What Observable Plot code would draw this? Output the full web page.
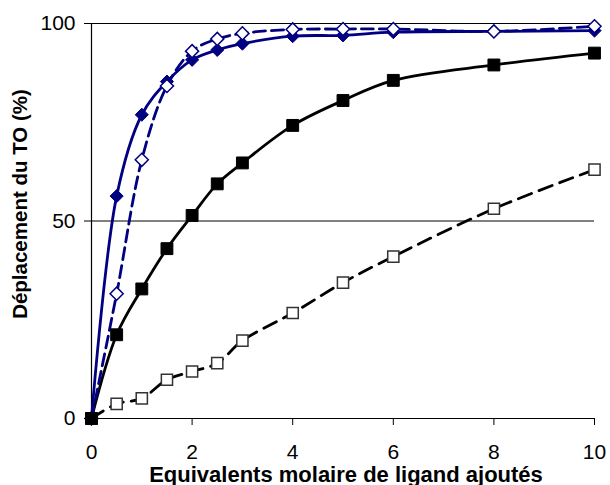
<!DOCTYPE html>
<html>
<head>
<meta charset="utf-8">
<script src="https://cdn.jsdelivr.net/npm/d3@7"></script>
<script src="https://cdn.jsdelivr.net/npm/@observablehq/plot@0.6"></script>
<style>
  html, body { margin: 0; padding: 0; background: #fff; }
  #chart { width: 610px; height: 485px; }
</style>
</head>
<body>
<div id="chart"></div>
<script>
// Equivalents of ligand added
const equivalents = [0, 0.5, 1, 1.5, 2, 2.5, 3, 4, 5, 6, 8, 10];
// Series values (% displacement of TO)
const filledDiamond = [0, 56.3, 76.9, 85.3, 90.8, 93.3, 94.9, 96.8, 97.0, 97.8, 98.0, 98.2];
const openDiamond   = [0, 31.6, 65.5, 84.2, 93.0, 96.1, 97.5, 98.5, 98.6, 98.6, 98.0, 99.3];
const filledSquare  = [0, 21.2, 32.8, 43.0, 51.4, 59.4, 64.7, 74.2, 80.5, 85.6, 89.5, 92.5];
const openSquare    = [0, 3.7, 5.1, 9.8, 11.9, 14.0, 19.7, 26.7, 34.4, 41.0, 53.1, 63.0];

const xTicks = [0, 2, 4, 6, 8, 10];
const yTicks = [0, 50, 100];
const xLabel = "Equivalents molaire de ligand ajoutés";
const yLabel = "Déplacement du TO (%)";

const toRows = (vals) => equivalents.map((x, i) => ({x, y: vals[i]}));
const A = toRows(filledDiamond);
const B = toRows(openDiamond);
const C = toRows(filledSquare);
const D = toRows(openSquare);

const navy = "#000080";

const chart = Plot.plot({
  width: 610,
  height: 485,
  marginLeft: 91,
  marginRight: 16,
  marginTop: 23,
  marginBottom: 67,
  style: {fontFamily: "'Liberation Sans', Arial, sans-serif", fontSize: "21px", color: "#000", background: "#fff"},
  x: {domain: [0, 10]},
  y: {domain: [0, 100]},
  marks: [
    Plot.ruleY([50], {stroke: "#000", strokeWidth: 1}),
    Plot.ruleY([100], {x1: 0, x2: 10.1, stroke: "#000", strokeWidth: 1.2}),
    Plot.ruleX([0], {stroke: "#000", strokeWidth: 1.2}),
    Plot.ruleY([0], {stroke: "#000", strokeWidth: 1.2}),
    Plot.axisX({ticks: xTicks, tickSize: 7, tickPadding: 19, label: null, fontSize: 21, stroke: "#000"}),
    Plot.axisY({ticks: yTicks, tickSize: 7, tickPadding: 9, label: null, fontSize: 21, stroke: "#000"}),
    Plot.line(D, {x: "x", y: "y", curve: "catmull-rom", stroke: "#000", strokeWidth: 2.8, strokeDasharray: "14,8"}),
    Plot.line(C, {x: "x", y: "y", curve: "catmull-rom", stroke: "#000", strokeWidth: 2.8}),
    Plot.line(A, {x: "x", y: "y", curve: "catmull-rom", stroke: navy, strokeWidth: 2.8}),
    Plot.line(B, {x: "x", y: "y", curve: "catmull-rom", stroke: navy, strokeWidth: 2.8, strokeDasharray: "12,6"}),
    Plot.dot(A, {x: "x", y: "y", symbol: "diamond2", r: 5.9, fill: navy, stroke: navy, strokeWidth: 1}),
    Plot.dot(B, {x: "x", y: "y", symbol: "diamond2", r: 5.9, fill: "#fff", stroke: navy, strokeWidth: 1.5}),
    Plot.dot(D, {x: "x", y: "y", symbol: "square", r: 6.3, fill: "#fff", stroke: "#333", strokeWidth: 1.5}),
    Plot.dot(C, {x: "x", y: "y", symbol: "square", r: 6.7, fill: "#000", stroke: "#000", strokeWidth: 1}),
    Plot.text([xLabel], {frameAnchor: "bottom", dx: 3, dy: 63, text: d => d, fontWeight: "bold", fontSize: 22, fill: "#000"}),
    Plot.text([yLabel], {frameAnchor: "left", textAnchor: "middle", dx: -71, dy: -17, rotate: -90, text: d => d, fontWeight: "bold", fontSize: 20.5, fill: "#000"})
  ]
});
document.getElementById("chart").appendChild(chart);
</script>
</body>
</html>
